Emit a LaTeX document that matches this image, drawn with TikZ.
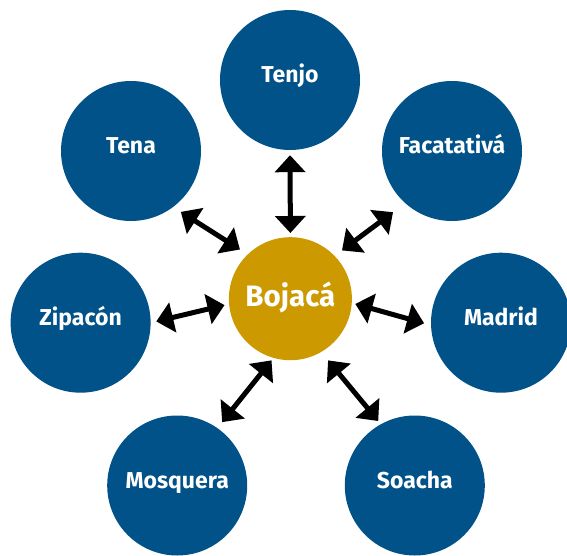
\documentclass[tikz,border=0pt]{standalone}
\usepackage{fontspec}
\setmainfont{Fira Sans}
\usetikzlibrary{arrows.meta}
\definecolor{cityblue}{RGB}{0,82,136}
\definecolor{hubgold}{RGB}{204,153,0}
\begin{document}
\begin{tikzpicture}[x=1pt,y=-1pt,
  city/.style={circle, fill=cityblue, minimum size=140pt, inner sep=0pt, text=white,
    font=\fontsize{23}{26}\selectfont\bfseries, text height=6pt, text depth=0pt},
  hub/.style={circle, fill=hubgold, minimum size=123pt, inner sep=0pt, text=white,
    font=\fontsize{29.5}{33}\selectfont\bfseries, text height=16pt, text depth=0pt},
  link/.style={{Triangle[width=30pt,length=17pt]}-{Triangle[width=30pt,length=17pt]}, line width=5pt, black}]
\useasboundingbox (0,0) rectangle (567,556);
\node[hub] (boj) at (290.4,298.7) {Bojacá};
\node[city] (tenjo) at (290,80) {Tenjo};
\node[city] (tena) at (131,151) {Tena};
\node[city] (fac) at (452,151) {Facatativá};
\node[city] (zip) at (80.6,322.7) {Zipacón};
\node[city] (mad) at (501,322.7) {Madrid};
\node[city] (mos) at (177.2,485.5) {Mosquera};
\node[city] (soa) at (414.8,485.5) {Soacha};
\draw[link, shorten <=5pt, shorten >=4pt] (tenjo.-90) -- (boj.90);
\draw[link, shorten <=9pt, shorten >=9pt] (tena.-53) -- (boj.134);
\draw[link, shorten <=15pt, shorten >=9pt] (fac.-132.6) -- (boj.44.3);
\draw[link, shorten <=5.6pt, shorten >=4.5pt] (zip.-0.5) -- (boj.-175.2);
\draw[link, shorten <=3.5pt, shorten >=7pt] (boj.-4) -- (mad.-178.7);
\draw[link, shorten <=3pt, shorten >=7.5pt] (boj.-106.5) -- (mos.55.9);
\draw[link, shorten <=10.7pt, shorten >=4pt] (boj.-60.1) -- (soa.119.8);
\end{tikzpicture}
\end{document}
